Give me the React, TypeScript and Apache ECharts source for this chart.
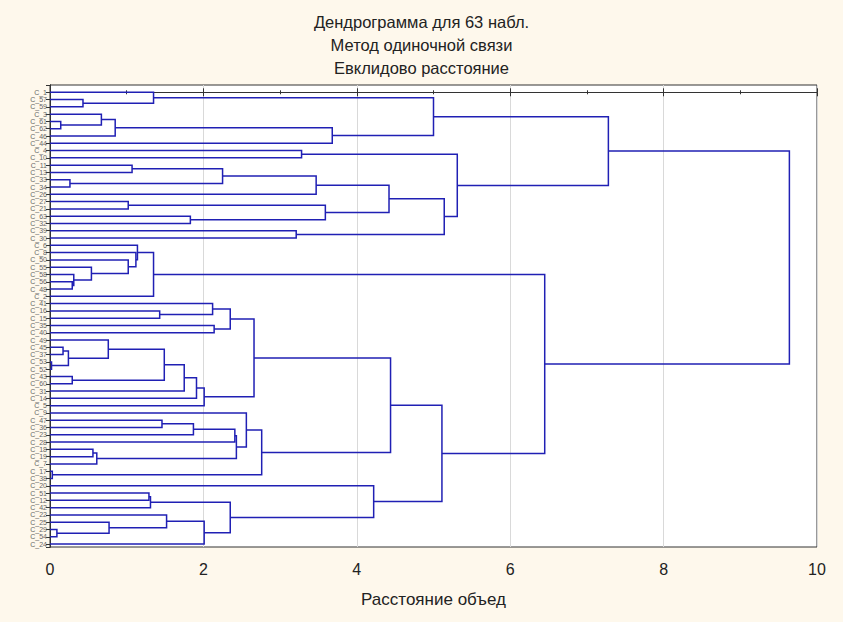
import React, { useEffect, useRef } from 'react';
import * as echarts from 'echarts';

const titleLines = ['Дендрограмма для 63 набл.', 'Метод одиночной связи', 'Евклидово расстояние'];
const axisName = 'Расстояние объед';
const xTicks = [0, 2, 4, 6, 8, 10];

// leaves, top to bottom
const leafLabels = [
  'C_1', 'C_57', 'C_59', 'C_3', 'C_61', 'C_62', 'C_46', 'C_44', 'C_4', 'C_10',
  'C_11', 'C_13', 'C_33', 'C_34', 'C_26', 'C_27', 'C_21', 'C_63', 'C_32', 'C_39',
  'C_30', 'C_6', 'C_8', 'C_50', 'C_55', 'C_58', 'C_56', 'C_48', 'C_2', 'C_41',
  'C_16', 'C_15', 'C_35', 'C_40', 'C_49', 'C_45', 'C_37', 'C_53', 'C_52', 'C_43',
  'C_60', 'C_31', 'C_14', 'C_5', 'C_9', 'C_47', 'C_36', 'C_23', 'C_28', 'C_18',
  'C_19', 'C_7', 'C_17', 'C_38', 'C_20', 'C_51', 'C_12', 'C_42', 'C_22', 'C_25',
  'C_29', 'C_54', 'C_24',
];

// merges: ids < 63 are leaves (display order), id 63 + k is merge k
const mergeLeft = [
  1, 4, 3, 65, 66, 0, 68, 8, 10, 12,
  71, 73, 15, 17, 75, 74, 19, 78, 70, 69,
  26, 25, 24, 23, 22, 21, 88, 30, 29, 32,
  91, 35, 37, 94, 34, 39, 97, 99, 100, 101,
  93, 45, 104, 105, 49, 107, 106, 44, 52, 110,
  103, 55, 114, 60, 59, 58, 118, 115, 54, 113,
  89, 82,
];
const mergeRight = [
  2, 5, 64, 6, 7, 63, 67, 9, 11, 13,
  72, 14, 16, 18, 76, 77, 20, 79, 80, 81,
  27, 83, 84, 85, 86, 87, 28, 31, 90, 33,
  92, 36, 38, 95, 96, 40, 98, 41, 42, 43,
  102, 46, 47, 48, 50, 51, 108, 109, 53, 111,
  112, 56, 57, 61, 116, 117, 62, 119, 120, 121,
  122, 123,
];
const mergeHeight = [
  0.43, 0.14, 0.67, 0.85, 3.68, 1.35, 5.0, 3.28, 1.07, 0.26,
  2.25, 3.47, 1.02, 1.83, 3.59, 4.42, 3.21, 5.14, 5.31, 7.28,
  0.29, 0.31, 0.54, 1.02, 1.12, 1.14, 1.35, 1.43, 2.12, 2.14,
  2.35, 0.17, 0.02, 0.24, 0.76, 0.29, 1.49, 1.75, 1.91, 2.01,
  2.66, 1.46, 1.87, 2.41, 0.56, 0.61, 2.43, 2.56, 0.03, 2.76,
  4.44, 1.29, 1.31, 0.09, 0.77, 1.52, 2.01, 2.35, 4.22, 5.11,
  6.45, 9.64,
];

const LINE = '#2020B4';

export default function App() {
  const ref = useRef<HTMLDivElement>(null);
  useEffect(() => {
    if (!ref.current) return;
    const chart = echarts.init(ref.current, undefined, { renderer: 'svg' });
    const N = leafLabels.length;
    const nodeY: number[] = [];
    const nodeH: number[] = [];
    for (let i = 0; i < N; i++) { nodeY.push(i); nodeH.push(0); }
    const data: number[][] = [];
    for (let k = 0; k < mergeLeft.length; k++) {
      const a = mergeLeft[k], b = mergeRight[k];
      nodeY.push((nodeY[a] + nodeY[b]) / 2);
      nodeH.push(mergeHeight[k]);
      data.push([mergeHeight[k], nodeY[N + k], nodeH[a], nodeY[a], nodeH[b], nodeY[b]]);
    }
    const yMin = -1, yMax = 62.4;
    const font = "'Liberation Sans', Arial, sans-serif";
    chart.setOption({
      animation: false,
      backgroundColor: '#FEF8EC',
      title: {
        text: titleLines.join('\n'),
        left: 'center',
        top: 5,
        textStyle: { fontSize: 16.5, fontWeight: 'normal', color: '#222', lineHeight: 23.3, fontFamily: font },
      },
      grid: { left: 50, right: 26, top: 85, bottom: 75, show: true, backgroundColor: '#fff', borderColor: '#333', borderWidth: 1 },
      xAxis: [
        {
          type: 'value', min: xTicks[0], max: xTicks[xTicks.length - 1], interval: 2, position: 'bottom',
          name: axisName, nameLocation: 'middle', nameGap: 44,
          nameTextStyle: { fontSize: 17, color: '#222', fontFamily: font },
          axisLine: { show: true, lineStyle: { color: '#333' } },
          axisTick: { show: true, inside: true, length: 4, lineStyle: { color: '#333' } },
          minorTick: { show: true, splitNumber: 2, length: 2, lineStyle: { color: '#333' } },
          axisLabel: { fontSize: 16, color: '#222', margin: 14, fontFamily: font },
          splitLine: { show: true, lineStyle: { color: '#d9d9d9', width: 1 } },
        },
        {
          type: 'value', min: 0, max: 10, interval: 2, position: 'top',
          axisLine: { show: true, lineStyle: { color: '#333' } },
          axisTick: { show: true, inside: true, length: 4, lineStyle: { color: '#333' } },
          minorTick: { show: true, splitNumber: 2, length: 2, lineStyle: { color: '#333' } },
          axisLabel: { show: false },
          splitLine: { show: false },
        },
      ],
      yAxis: [
        {
          type: 'value', inverse: true, min: yMin, max: yMax, interval: 1, position: 'left',
          axisLine: { show: true, lineStyle: { color: '#333' } },
          axisTick: { show: true, inside: false, length: 2, lineStyle: { color: '#333' } },
          axisLabel: {
            fontSize: 7, lineHeight: 7, color: '#666', margin: 3, fontFamily: font,
            formatter: (v: number) => (Number.isInteger(v) && v >= 0 && v < leafLabels.length ? leafLabels[v] : ''),
          },
          splitLine: { show: false },
        },
        {
          type: 'value', inverse: true, min: yMin, max: yMax, interval: 1, position: 'right',
          axisLine: { show: true, lineStyle: { color: '#333' } },
          axisTick: { show: true, inside: true, length: 4, lineStyle: { color: '#333' } },
          axisLabel: { show: false },
          splitLine: { show: false },
        },
      ],
      series: [
        {
          type: 'custom',
          xAxisIndex: 0,
          yAxisIndex: 0,
          clip: false,
          data,
          encode: { x: [0, 2, 4], y: [1, 3, 5] },
          renderItem: (params: any, api: any) => {
            const h = api.value(0);
            const hA = api.value(2), yA = api.value(3), hB = api.value(4), yB = api.value(5);
            const p1 = api.coord([hA, yA]);
            const p2 = api.coord([h, yA]);
            const p3 = api.coord([h, yB]);
            const p4 = api.coord([hB, yB]);
            return {
              type: 'polyline',
              shape: { points: [p1, p2, p3, p4] },
              style: { stroke: LINE, lineWidth: 1.5, fill: null },
            };
          },
        },
      ],
    });
    return () => chart.dispose();
  }, []);
  return <div ref={ref} style={{ position: 'fixed', left: 0, top: 0, width: 843, height: 622 }} />;
}
